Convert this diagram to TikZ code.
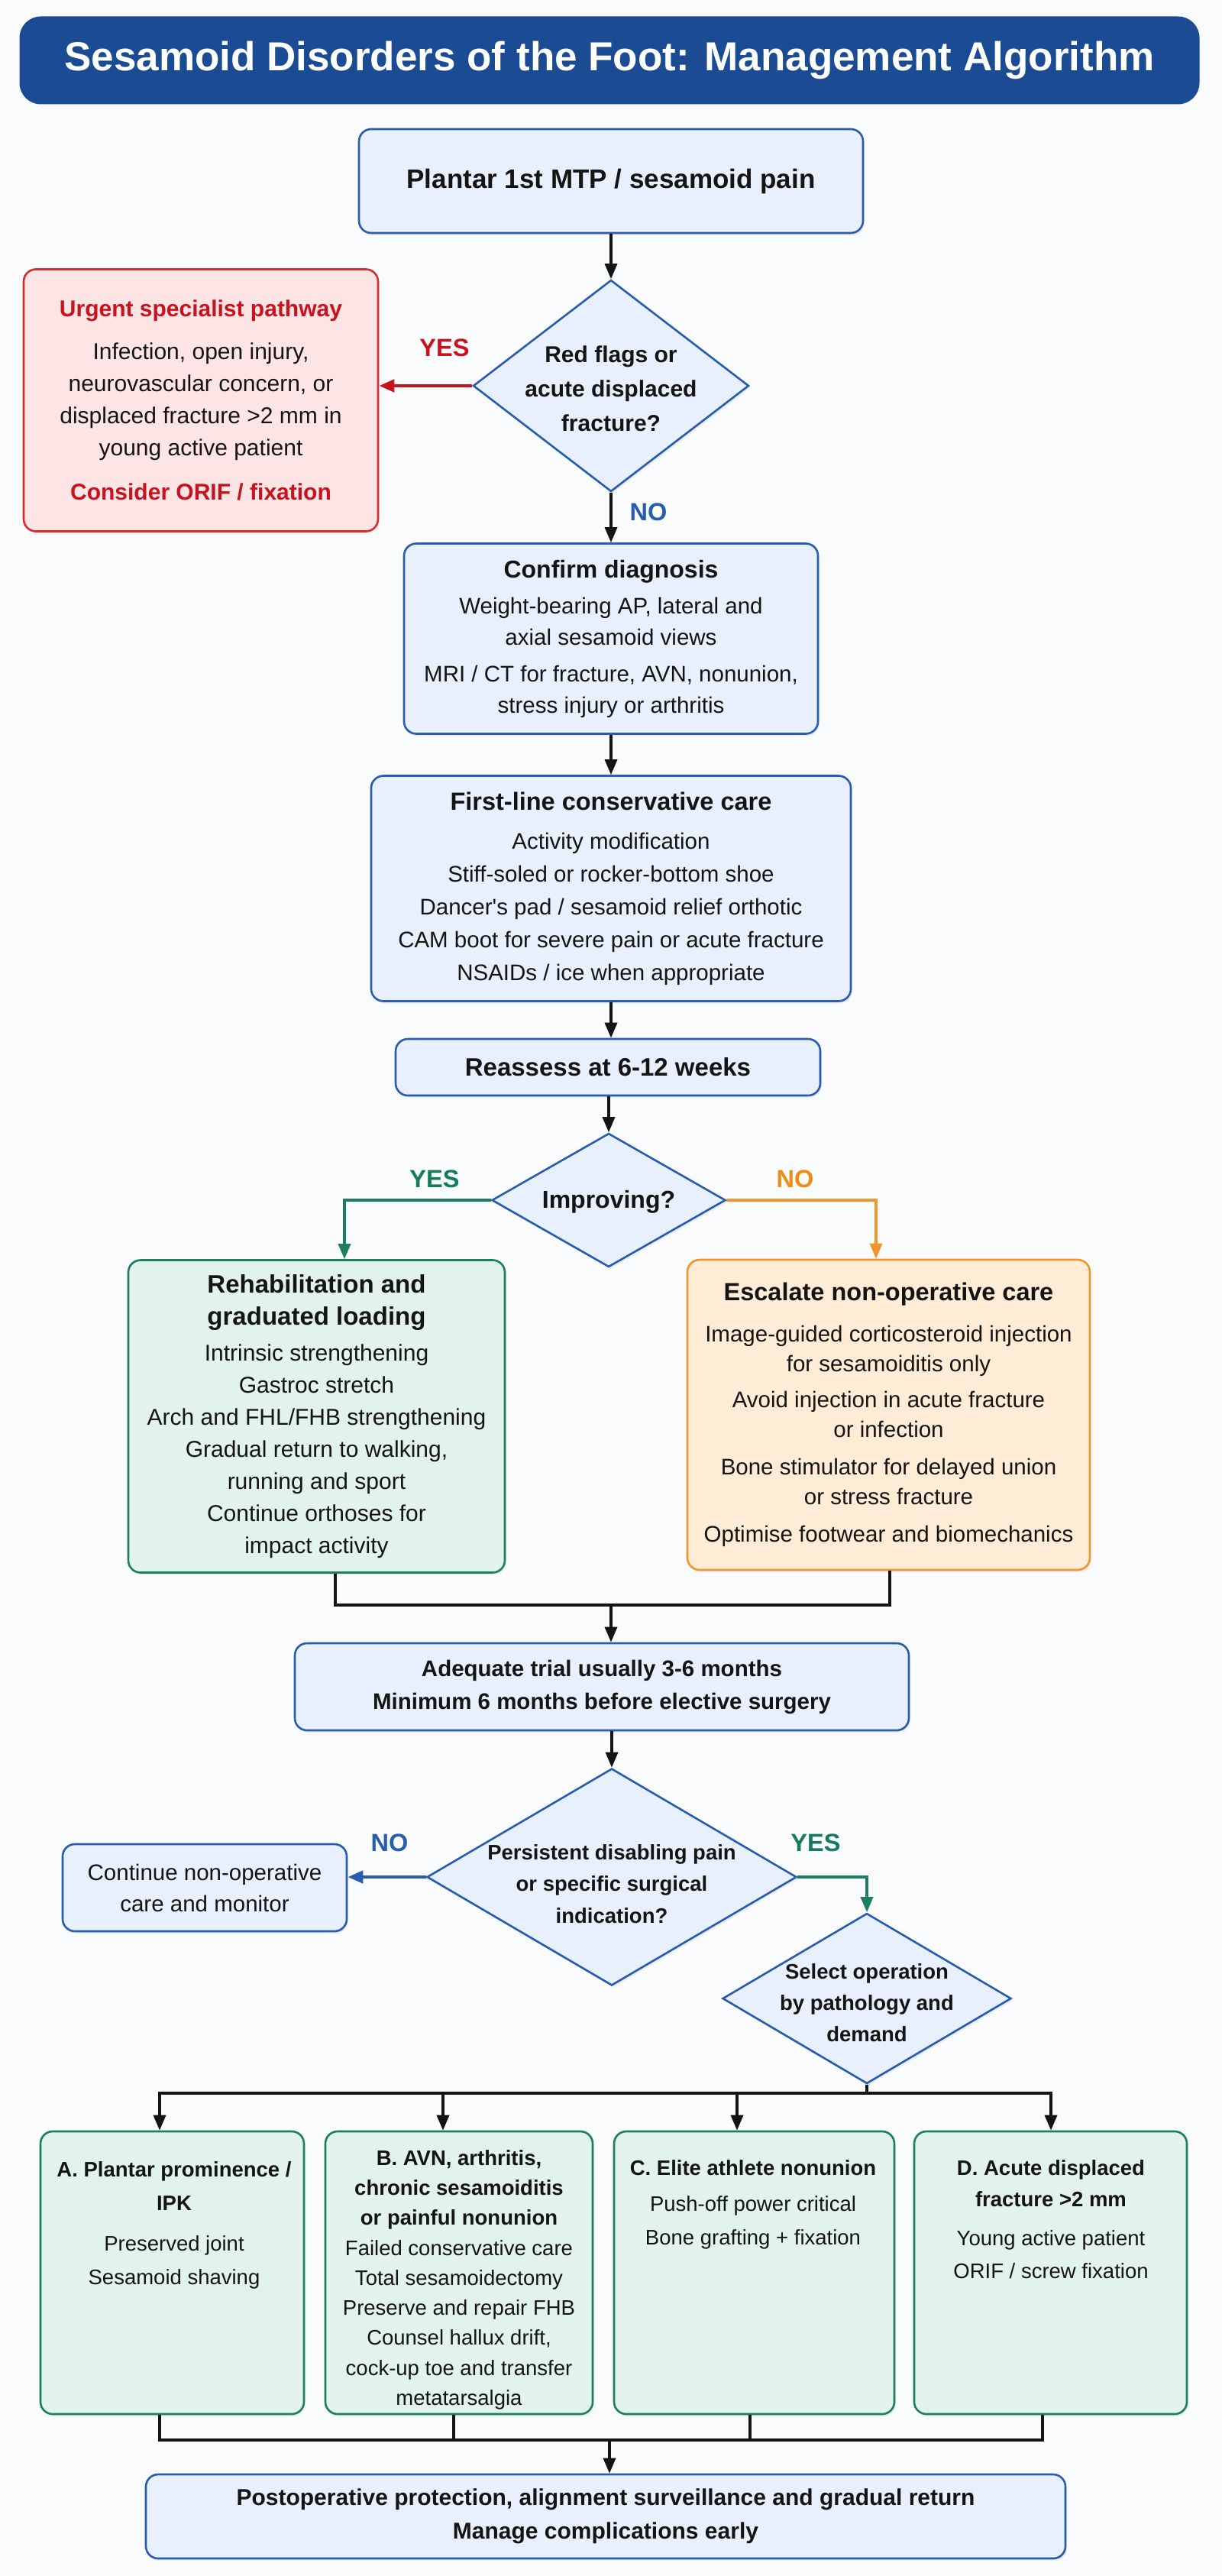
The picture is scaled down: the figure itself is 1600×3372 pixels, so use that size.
\documentclass[tikz,border=0pt]{standalone}
\usepackage{fontspec}
\setmainfont{Liberation Sans}
\usetikzlibrary{shapes.geometric,arrows.meta,shadows,calc}
\definecolor{titlebg}{RGB}{27,75,147}
\definecolor{bline}{RGB}{40,92,172}
\definecolor{bfill}{RGB}{231,240,252}
\definecolor{rline}{RGB}{214,45,50}
\definecolor{rfill}{RGB}{253,229,229}
\definecolor{rtext}{RGB}{200,18,30}
\definecolor{gline}{RGB}{28,128,94}
\definecolor{gfill}{RGB}{226,243,236}
\definecolor{gtext}{RGB}{18,125,88}
\definecolor{oline}{RGB}{240,150,45}
\definecolor{ofill}{RGB}{254,236,214}
\definecolor{otext}{RGB}{238,140,20}
\definecolor{ink}{RGB}{20,20,20}
\definecolor{paper}{RGB}{250,251,253}
\newcommand{\fz}[2]{\fontsize{#1}{#2}\selectfont}
\tikzset{
  boxbase/.style={rounded corners=16pt, line width=2.6pt, align=center, inner sep=0pt, text=ink,
    drop shadow={shadow xshift=2pt, shadow yshift=-3pt, opacity=0.12}},
  bluebox/.style={boxbase, draw=bline, fill=bfill},
  redbox/.style={boxbase, draw=rline, fill=rfill},
  greenbox/.style={boxbase, draw=gline, fill=gfill},
  orangebox/.style={boxbase, draw=oline, fill=ofill},
  dia/.style={shape=diamond, draw=bline, fill=bfill, line width=2.6pt, inner sep=0pt,
    drop shadow={shadow xshift=2pt, shadow yshift=-3pt, opacity=0.12}},
  txt/.style={align=center, inner sep=0pt, text=ink},
  arr/.style={draw=ink, line width=3.4pt, -{Triangle[length=20pt,width=16pt]}},
  ln/.style={draw=ink, line width=3.4pt, line cap=rect},
  lab/.style={font=\fz{32.5}{38}\bfseries, inner sep=0pt},
}
\begin{document}
\begin{tikzpicture}[x=1pt,y=-1pt]
\useasboundingbox[fill=paper] (0,0) rectangle (1600,3372);

% title
\node[fill=titlebg, rounded corners=28pt, minimum width=1545pt, minimum height=115pt, inner sep=0pt,
  text=white, font=\fz{53}{60}\bfseries] (title) at (798,79) {Sesamoid Disorders of the Foot: Management Algorithm};

% start
\node[bluebox, minimum width=660pt, minimum height=136pt, font=\fz{35}{40}\bfseries] (start) at (800,237)
  {Plantar 1st MTP / sesamoid pain};

% decision 1
\node[dia, minimum width=361pt, minimum height=277pt] (d1) at (800,505) {};
\node[txt, font=\fz{30}{45}\bfseries] (d1t) at (800,509) {Red flags or\\acute displaced\\fracture?};

% urgent
\node[redbox, minimum width=464pt, minimum height=343pt, font=\fz{30}{42}] (urgent) at (263,524)
  {{\color{rtext}\bfseries Urgent specialist pathway}\\[14pt]
   Infection, open injury,\\
   neurovascular concern, or\\
   displaced fracture >2 mm in\\
   young active patient\\[16pt]
   {\color{rtext}\bfseries Consider ORIF / fixation}};

\node[lab, text=rtext] (yes1) at (582,455) {YES};
\draw[arr, draw=rtext, line width=4.6pt] (d1.west) -- (d1.west -| urgent.east);

\draw[arr] (start.south) -- (start.south |- d1.north);

% confirm
\node[bluebox, minimum width=542pt, minimum height=249pt, font=\fz{29.5}{41}] (confirm) at (800,836)
  {{\fz{32}{41}\bfseries Confirm diagnosis}\\[6pt]
   Weight-bearing AP, lateral and\\
   axial sesamoid views\\[7pt]
   MRI / CT for fracture, AVN, nonunion,\\
   stress injury or arthritis};
\node[lab, text=bline] (no1) at (849,670) {NO};
\draw[arr] (d1.south) -- (d1.south |- confirm.north);

% first line
\node[bluebox, minimum width=628pt, minimum height=295pt, font=\fz{29.5}{43}] (first) at (800,1163)
  {{\fz{32.5}{43}\bfseries First-line conservative care}\\[8pt]
   Activity modification\\
   Stiff-soled or rocker-bottom shoe\\
   Dancer\textquotesingle s pad / sesamoid relief orthotic\\
   CAM boot for severe pain or acute fracture\\
   NSAIDs / ice when appropriate};
\draw[arr] (confirm.south) -- (confirm.south |- first.north);

% reassess
\node[bluebox, minimum width=556pt, minimum height=74pt, font=\fz{33}{40}\bfseries] (reass) at (796,1397)
  {Reassess at 6-12 weeks};
\draw[arr] (first.south) -- (first.south |- reass.north);

% decision 2
\node[dia, minimum width=306pt, minimum height=175pt] (d2) at (797,1571) {};
\node[txt, font=\fz{32}{40}\bfseries] (d2t) at (797,1573) {Improving?};
\draw[arr] (d2.north |- reass.south) -- (d2.north);

\node[lab, text=gtext] (yes2) at (569,1543) {YES};
\node[lab, text=otext] (no2) at (1041,1543) {NO};

% rehab
\node[greenbox, minimum width=493pt, minimum height=409pt, font=\fz{30}{42}] (rehab) at (414.5,1854)
  {{\fz{33}{42}\bfseries Rehabilitation and}\\
   {\fz{33}{42}\bfseries graduated loading}\\[5pt]
   Intrinsic strengthening\\
   Gastroc stretch\\
   Arch and FHL/FHB strengthening\\
   Gradual return to walking,\\
   running and sport\\
   Continue orthoses for\\
   impact activity};

% escalate
\node[orangebox, minimum width=527pt, minimum height=406pt, font=\fz{29.5}{39}] (escal) at (1163.5,1852)
  {{\fz{32.5}{39}\bfseries Escalate non-operative care}\\[15pt]
   Image-guided corticosteroid injection\\
   for sesamoiditis only\\[8pt]
   Avoid injection in acute fracture\\
   or infection\\[10pt]
   Bone stimulator for delayed union\\
   or stress fracture\\[10pt]
   Optimise footwear and biomechanics};

\coordinate (gturn) at (451,1571);
\coordinate (oturn) at (1147,1571);
\draw[arr, draw=gline, line width=3.6pt] (d2.west) -- (gturn) -- (gturn |- rehab.north);
\draw[arr, draw=oline, line width=3.6pt] (d2.east) -- (oturn) -- (oturn |- escal.north);

% merge 1
\coordinate (m1) at (439,2101);
\coordinate (m2) at (1165,2101);
\coordinate (m3) at (800,2101);
\draw[ln, line cap=butt] (rehab.south -| m1) -- (m1) -- (m2) -- (escal.south -| m2);

% adequate
\node[bluebox, minimum width=804pt, minimum height=114pt, font=\fz{29.5}{43}\bfseries] (adeq) at (788,2208)
  {Adequate trial usually 3-6 months\\ Minimum 6 months before elective surgery};
\draw[arr] (m3) -- (m3 |- adeq.north);

% decision 3
\node[dia, minimum width=484pt, minimum height=284pt] (d3) at (801,2457) {};
\node[txt, font=\fz{27.5}{41.5}\bfseries] (d3t) at (801,2466) {Persistent disabling pain\\ or specific surgical\\ indication?};
\draw[arr] (d3.north |- adeq.south) -- (d3.north);

% continue
\node[bluebox, minimum width=372pt, minimum height=114pt, font=\fz{29.5}{41}] (cont) at (268,2471)
  {Continue non-operative\\ care and monitor};
\node[lab, text=bline] (no3) at (510,2412) {NO};
\draw[arr, draw=bline, line width=4.6pt] (d3.west) -- (d3.west -| cont.east);

% decision 4
\node[dia, minimum width=378pt, minimum height=223pt] (d4) at (1135,2616) {};
\node[txt, font=\fz{27.5}{41}\bfseries] (d4t) at (1135,2622) {Select operation\\ by pathology and\\ demand};
\node[lab, text=gtext] (yes3) at (1068,2412) {YES};
\coordinate (yturn) at (1135,2457);
\draw[arr, draw=gline, line width=3.6pt] (d3.east) -- (yturn) -- (d4.north);

% option boxes
\node[greenbox, minimum width=345pt, minimum height=370pt] (boxA) at (225.5,2975) {};
\node[greenbox, minimum width=350pt, minimum height=370pt] (boxB) at (601,2975) {};
\node[greenbox, minimum width=367pt, minimum height=370pt] (boxC) at (987.5,2975) {};
\node[greenbox, minimum width=357pt, minimum height=370pt] (boxD) at (1375.5,2975) {};

\node[txt, anchor=north, font=\fz{27.5}{44}] (boxAt) at (228,2829)
  {{\bfseries A. Plantar prominence /}\\
   {\bfseries IPK}\\[9pt]
   Preserved joint\\
   Sesamoid shaving};
\node[txt, anchor=north, font=\fz{27.5}{39.3}] (boxBt) at (601,2814)
  {{\bfseries B. AVN, arthritis,}\\
   {\bfseries chronic sesamoiditis}\\
   {\bfseries or painful nonunion}\\
   Failed conservative care\\
   Total sesamoidectomy\\
   Preserve and repair FHB\\
   Counsel hallux drift,\\
   cock-up toe and transfer\\
   metatarsalgia};
\node[txt, anchor=north, font=\fz{27.5}{44}] (boxCt) at (986,2827)
  {{\bfseries C. Elite athlete nonunion}\\[3pt]
   Push-off power critical\\
   Bone grafting + fixation};
\node[txt, anchor=north, font=\fz{27.5}{41}] (boxDt) at (1376,2827)
  {{\bfseries D. Acute displaced}\\
   {\bfseries fracture >2 mm}\\[10pt]
   Young active patient\\[2pt]
   ORIF / screw fixation};

% branch
\coordinate (bj) at (1135,2740);
\coordinate (bA) at (209,2740);
\coordinate (bB) at (580,2740);
\coordinate (bC) at (965,2740);
\coordinate (bD) at (1376,2740);
\draw[ln, line cap=butt] (d4.south) -- (bj);
\draw[ln] (bA) -- (bD);
\draw[arr] (bA) -- (bA |- boxA.north);
\draw[arr] (bB) -- (bB |- boxB.north);
\draw[arr] (bC) -- (bC |- boxC.north);
\draw[arr] (bD) -- (bD |- boxD.north);

% merge 2
\coordinate (cA) at (209,3194);
\coordinate (cB) at (594,3194);
\coordinate (cC) at (982,3194);
\coordinate (cD) at (1365,3194);
\coordinate (cM) at (798,3194);
\draw[ln, line cap=butt] (boxA.south -| cA) -- (cA);
\draw[ln, line cap=butt] (boxB.south -| cB) -- (cB);
\draw[ln, line cap=butt] (boxC.south -| cC) -- (cC);
\draw[ln, line cap=butt] (boxD.south -| cD) -- (cD);
\draw[ln] (cA) -- (cD);

% final
\node[bluebox, minimum width=1204pt, minimum height=110pt, font=\fz{30}{44}\bfseries] (final) at (793,3294)
  {Postoperative protection, alignment surveillance and gradual return\\ Manage complications early};
\draw[arr] (cM) -- (cM |- final.north);
\end{tikzpicture}
\end{document}
